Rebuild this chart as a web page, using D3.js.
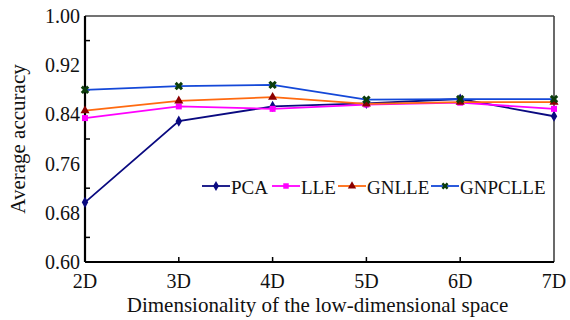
<!DOCTYPE html>
<html>
<head>
<meta charset="utf-8">
<script src="https://cdn.jsdelivr.net/npm/d3@7"></script>
<style>
  body { margin: 0; background: #fff; }
  text { font-family: "Liberation Serif", "Times New Roman", serif; fill: #111; }
</style>
</head>
<body>
<svg id="chart"></svg>
<script>
// data
const dims = ['2D', '3D', '4D', '5D', '6D', '7D'];
const pcaVals = [0.697, 0.829, 0.853, 0.858, 0.865, 0.837];
const lleVals = [0.834, 0.853, 0.849, 0.856, 0.859, 0.849];
const gnlleVals = [0.846, 0.862, 0.868, 0.857, 0.860, 0.860];
const gnpclleVals = [0.880, 0.886, 0.888, 0.864, 0.865, 0.865];
const yTicks = [0.60, 0.68, 0.76, 0.84, 0.92, 1.00];
const yMinor = [0.64, 0.72, 0.80, 0.88, 0.96];

const series = [
  {name: 'PCA', values: pcaVals, line: '#0a0a80', mark: '#0a0a80', shape: d3.symbolDiamond},
  {name: 'LLE', values: lleVals, line: '#ff00ff', mark: '#ff00ff', shape: d3.symbolSquare},
  {name: 'GNLLE', values: gnlleVals, line: '#ff6a10', mark: '#8b0000', shape: d3.symbolTriangle},
  {name: 'GNPCLLE', values: gnpclleVals, line: '#1448d8', mark: '#0b3d0b', shape: d3.symbolCross}
];

const W = 570, H = 320;
const margin = {top: 16, right: 16, bottom: 58, left: 85};
const width = 554 - margin.left;
const height = 262 - margin.top;

const svg = d3.select('#chart').attr('width', W).attr('height', H);
const chart = svg.append('g').attr('transform', `translate(${margin.left},${margin.top})`);

const x = d3.scalePoint().domain(dims).range([0, width]);
const y = d3.scaleLinear().domain([0.6, 1.0]).range([height, 0]);

// frame: top and right gray, left and bottom black
chart.append('line').attr('x1', 0).attr('x2', width).attr('y1', 0).attr('y2', 0)
     .attr('stroke', '#444').attr('stroke-width', 1.6);
chart.append('line').attr('x1', width).attr('x2', width).attr('y1', 0).attr('y2', height)
     .attr('stroke', '#444').attr('stroke-width', 1.6);

// inner ticks
chart.selectAll('.ytick').data(yMinor).enter().append('line')
     .attr('x1', 0).attr('x2', 5)
     .attr('y1', d => y(d)).attr('y2', d => y(d))
     .attr('stroke', '#000').attr('stroke-width', 1.5);
chart.selectAll('.xtick').data(dims.slice(1, -1)).enter().append('line')
     .attr('x1', d => x(d)).attr('x2', d => x(d))
     .attr('y1', height).attr('y2', height - 5)
     .attr('stroke', '#000').attr('stroke-width', 1.5);

chart.append('line').attr('x1', 0).attr('x2', width).attr('y1', height).attr('y2', height)
     .attr('stroke', '#000').attr('stroke-width', 2.2);
chart.append('line').attr('x1', 0).attr('x2', 0).attr('y1', 0).attr('y2', height)
     .attr('stroke', '#000').attr('stroke-width', 2.2);

// tick labels
chart.selectAll('.ylab').data(yTicks).enter().append('text')
     .attr('x', -5).attr('y', d => y(d)).attr('dy', '0.35em')
     .attr('text-anchor', 'end').style('font-size', '20px')
     .text(d => d3.format('.2f')(d));
chart.selectAll('.xlab').data(dims).enter().append('text')
     .attr('x', d => x(d)).attr('y', height + 26)
     .attr('text-anchor', 'middle').style('font-size', '20px')
     .text(d => d);

// axis titles
svg.append('text')
   .attr('x', margin.left + width / 2 - 2).attr('y', 312)
   .attr('text-anchor', 'middle').style('font-size', '21px')
   .text('Dimensionality of the low-dimensional space');
svg.append('text')
   .attr('transform', `translate(25,${margin.top + height / 2}) rotate(-90)`)
   .attr('text-anchor', 'middle').style('font-size', '21px')
   .text('Average accuracy');

// lines + markers
const line = d3.line().x((d, i) => x(dims[i])).y(d => y(d));
series.forEach(s => {
  chart.append('path').datum(s.values)
       .attr('d', line).attr('fill', 'none')
       .attr('stroke', s.line).attr('stroke-width', 1.8);
});
series.forEach(s => {
  const sym = d3.symbol().type(s.shape).size(s.shape === d3.symbolCross ? 45 : 36);
  chart.selectAll(null).data(s.values).enter().append('path')
       .attr('d', sym)
       .attr('transform', (d, i) => `translate(${x(dims[i])},${y(d)})` + (s.shape === d3.symbolCross ? ' rotate(45)' : ''))
       .attr('fill', s.mark);
});

// legend
const legendX = [202, 272, 338, 431];
const legendY = 186;
const legend = svg.append('g');
series.forEach((s, i) => {
  const g = legend.append('g').attr('transform', `translate(${legendX[i]},${legendY})`);
  g.append('line').attr('x1', 0).attr('x2', 28).attr('y1', 0).attr('y2', 0)
   .attr('stroke', s.line).attr('stroke-width', 1.8);
  const sym = d3.symbol().type(s.shape).size(30);
  g.append('path').attr('d', sym)
   .attr('transform', 'translate(14,0)' + (s.shape === d3.symbolCross ? ' rotate(45)' : ''))
   .attr('fill', s.mark);
  g.append('text').attr('x', 29).attr('y', 1).attr('dy', '0.35em')
   .style('font-size', '19px').text(s.name);
});
</script>
</body>
</html>
